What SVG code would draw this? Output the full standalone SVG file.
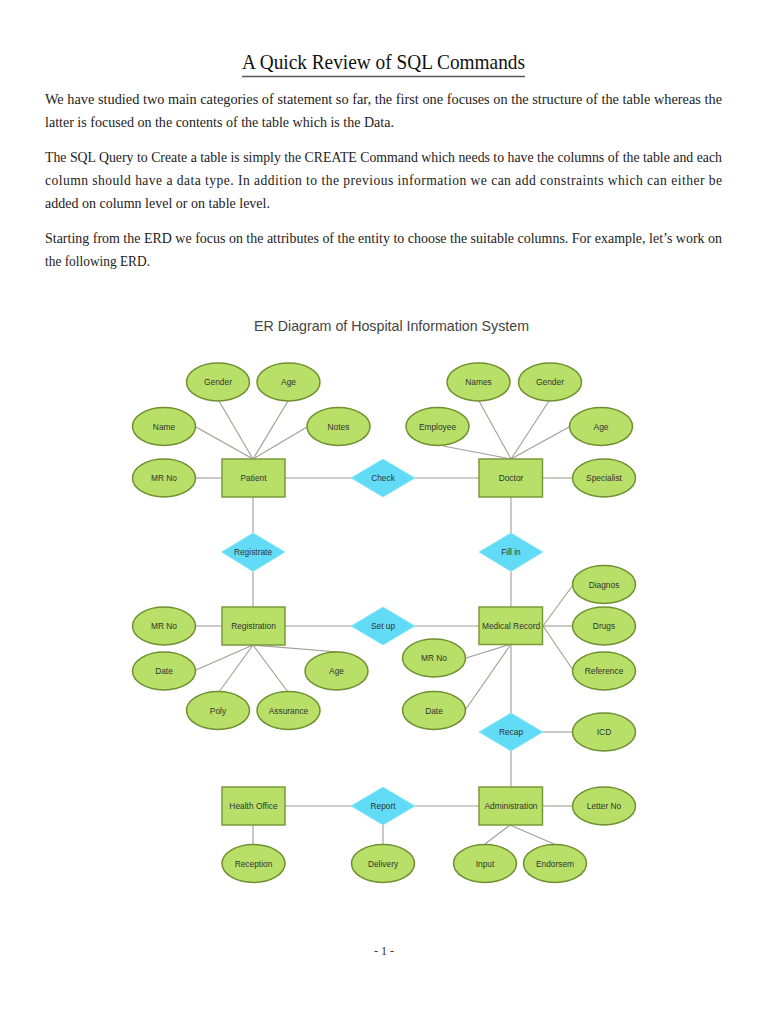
<svg xmlns="http://www.w3.org/2000/svg" width="768" height="1024" viewBox="0 0 768 1024">
<style>
.title{font-family:"Liberation Serif",serif;font-size:22px;fill:#111}
.para{font-family:"Liberation Serif",serif;font-size:13.6px;fill:#222}
.ert{font-family:"Liberation Sans",Arial,sans-serif;font-size:14.2px;fill:#444}
.ent{fill:#b8e068;stroke:#7a9a3a;stroke-width:1.5}
.att{fill:#b8e068;stroke:#6f8f30;stroke-width:1.5}
.rel{fill:#62dcf6;stroke:#8fe6f8;stroke-width:0.8}
.lbl{font-family:"Liberation Sans",Arial,sans-serif;font-size:8.4px;fill:#333;text-anchor:middle}
#connectors line{stroke:#a09d92;stroke-width:1.1}
.pg{font-family:"Liberation Serif",serif;font-size:12px;fill:#333;text-anchor:middle}
</style>
<rect width="768" height="1024" fill="#ffffff"/>
<g id="heading">
<text class="title" x="242" y="69" textLength="283" lengthAdjust="spacingAndGlyphs">A Quick Review of SQL Commands</text>
<line x1="242" y1="76.5" x2="525" y2="76.5" stroke="#555" stroke-width="1.5"/>
</g>
<g id="body-text">
<text class="para" x="45" y="104" textLength="677" lengthAdjust="spacingAndGlyphs">We have studied two main categories of statement so far, the first one focuses on the structure of the table whereas the</text>
<text class="para" x="45" y="127" textLength="349" lengthAdjust="spacingAndGlyphs">latter is focused on the contents of the table which is the Data.</text>
<text class="para" x="45" y="162" textLength="677" lengthAdjust="spacingAndGlyphs">The SQL Query to Create a table is simply the CREATE Command which needs to have the columns of the table and each</text>
<text class="para" x="45" y="185" textLength="677" lengthAdjust="spacing">column should have a data type. In addition to the previous information we can add constraints which can either be</text>
<text class="para" x="45" y="208" textLength="225" lengthAdjust="spacingAndGlyphs">added on column level or on table level.</text>
<text class="para" x="45" y="243" textLength="677" lengthAdjust="spacingAndGlyphs">Starting from the ERD we focus on the attributes of the entity to choose the suitable columns. For example, let’s work on</text>
<text class="para" x="45" y="266" textLength="105" lengthAdjust="spacingAndGlyphs">the following ERD.</text>
</g>
<text class="ert" x="254" y="331" textLength="275" lengthAdjust="spacingAndGlyphs">ER Diagram of Hospital Information System</text>
<g id="connectors">
<line x1="253" y1="459" x2="219" y2="401"/>
<line x1="253" y1="459" x2="288" y2="401"/>
<line x1="253" y1="459" x2="196" y2="427"/>
<line x1="253" y1="459" x2="307" y2="427"/>
<line x1="196" y1="478" x2="222" y2="478"/>
<line x1="285" y1="478" x2="352" y2="478"/>
<line x1="415" y1="478" x2="479" y2="478"/>
<line x1="253" y1="497" x2="253" y2="533"/>
<line x1="253" y1="572" x2="253" y2="607"/>
<line x1="511" y1="459" x2="479" y2="401"/>
<line x1="511" y1="459" x2="549" y2="401"/>
<line x1="511" y1="459" x2="443" y2="446"/>
<line x1="511" y1="459" x2="569" y2="427"/>
<line x1="543" y1="478" x2="572" y2="478"/>
<line x1="511" y1="497" x2="511" y2="533"/>
<line x1="511" y1="572" x2="511" y2="607"/>
<line x1="196" y1="626" x2="222" y2="626"/>
<line x1="285" y1="626" x2="352" y2="626"/>
<line x1="415" y1="626" x2="479" y2="626"/>
<line x1="253" y1="645" x2="196" y2="670"/>
<line x1="253" y1="645" x2="219" y2="692"/>
<line x1="253" y1="645" x2="288" y2="692"/>
<line x1="253" y1="645" x2="338" y2="652"/>
<line x1="543" y1="626" x2="573" y2="585"/>
<line x1="543" y1="626" x2="573" y2="626"/>
<line x1="543" y1="626" x2="573" y2="670"/>
<line x1="511" y1="644" x2="466" y2="658"/>
<line x1="511" y1="644" x2="466" y2="709"/>
<line x1="511" y1="644" x2="511" y2="713"/>
<line x1="543" y1="732" x2="573" y2="732"/>
<line x1="511" y1="751" x2="511" y2="787"/>
<line x1="285" y1="806" x2="352" y2="806"/>
<line x1="415" y1="806" x2="479" y2="806"/>
<line x1="543" y1="806" x2="572" y2="806"/>
<line x1="253" y1="825" x2="253" y2="845"/>
<line x1="383" y1="825" x2="383" y2="845"/>
<line x1="510" y1="825" x2="485" y2="844"/>
<line x1="510" y1="825" x2="554" y2="844"/>
</g>
<g id="patient"><rect class="ent" x="222" y="459" width="63" height="38"/><text class="lbl" x="253.5" y="481">Patient</text></g>
<g id="patient-gender"><ellipse class="att" cx="218" cy="382" rx="31.5" ry="19"/><text class="lbl" x="218" y="385">Gender</text></g>
<g id="patient-age"><ellipse class="att" cx="288.5" cy="382" rx="31.5" ry="19"/><text class="lbl" x="288.5" y="385">Age</text></g>
<g id="patient-name"><ellipse class="att" cx="164" cy="426.5" rx="31.5" ry="19"/><text class="lbl" x="164" y="429.5">Name</text></g>
<g id="patient-notes"><ellipse class="att" cx="338.5" cy="426.5" rx="31.5" ry="19"/><text class="lbl" x="338.5" y="429.5">Notes</text></g>
<g id="patient-mrno"><ellipse class="att" cx="164" cy="478" rx="31.5" ry="19"/><text class="lbl" x="164" y="481">MR No</text></g>
<g id="check"><polygon class="rel" points="383,459 415,478 383,497 351,478"/><text class="lbl" x="383" y="481">Check</text></g>
<g id="doctor"><rect class="ent" x="479" y="459" width="63.5" height="38"/><text class="lbl" x="511" y="481">Doctor</text></g>
<g id="doctor-names"><ellipse class="att" cx="478.5" cy="382" rx="31.5" ry="19"/><text class="lbl" x="478.5" y="385">Names</text></g>
<g id="doctor-gender"><ellipse class="att" cx="550" cy="382" rx="31.5" ry="19"/><text class="lbl" x="550" y="385">Gender</text></g>
<g id="doctor-employee"><ellipse class="att" cx="437.5" cy="426.5" rx="31.5" ry="19"/><text class="lbl" x="437.5" y="429.5">Employee</text></g>
<g id="doctor-age"><ellipse class="att" cx="601" cy="426.5" rx="31.5" ry="19"/><text class="lbl" x="601" y="429.5">Age</text></g>
<g id="doctor-specialist"><ellipse class="att" cx="604" cy="478" rx="31.5" ry="19"/><text class="lbl" x="604" y="481">Specialist</text></g>
<g id="registrate"><polygon class="rel" points="253,533 285,552 253,571.5 221.5,552"/><text class="lbl" x="253" y="555">Registrate</text></g>
<g id="fill-in"><polygon class="rel" points="511,533 543,552 511,571.5 479,552"/><text class="lbl" x="511" y="555">Fill in</text></g>
<g id="registration"><rect class="ent" x="222" y="607" width="63" height="38"/><text class="lbl" x="253.5" y="629">Registration</text></g>
<g id="registration-mrno"><ellipse class="att" cx="164" cy="626" rx="31.5" ry="19"/><text class="lbl" x="164" y="629">MR No</text></g>
<g id="registration-date"><ellipse class="att" cx="164" cy="671" rx="31.5" ry="19"/><text class="lbl" x="164" y="674">Date</text></g>
<g id="registration-age"><ellipse class="att" cx="336.5" cy="671" rx="31.5" ry="19"/><text class="lbl" x="336.5" y="674">Age</text></g>
<g id="registration-poly"><ellipse class="att" cx="218" cy="710.5" rx="31.5" ry="19"/><text class="lbl" x="218" y="713.5">Poly</text></g>
<g id="registration-assurance"><ellipse class="att" cx="288.5" cy="710.5" rx="31.5" ry="19"/><text class="lbl" x="288.5" y="713.5">Assurance</text></g>
<g id="set-up"><polygon class="rel" points="383,607 415,626 383,645 351,626"/><text class="lbl" x="383" y="629">Set up</text></g>
<g id="medical-record"><rect class="ent" x="479" y="607" width="63.5" height="37.5"/><text class="lbl" x="511" y="629">Medical Record</text></g>
<g id="mr-diagnos"><ellipse class="att" cx="604" cy="584.5" rx="31.5" ry="19"/><text class="lbl" x="604" y="587.5">Diagnos</text></g>
<g id="mr-drugs"><ellipse class="att" cx="604" cy="626" rx="31.5" ry="19"/><text class="lbl" x="604" y="629">Drugs</text></g>
<g id="mr-reference"><ellipse class="att" cx="604" cy="671" rx="31.5" ry="19"/><text class="lbl" x="604" y="674">Reference</text></g>
<g id="mr-mrno"><ellipse class="att" cx="434" cy="658" rx="31.5" ry="19"/><text class="lbl" x="434" y="661">MR No</text></g>
<g id="mr-date"><ellipse class="att" cx="434" cy="710.5" rx="31.5" ry="19"/><text class="lbl" x="434" y="713.5">Date</text></g>
<g id="recap"><polygon class="rel" points="511,713 543,732 511,751 479,732"/><text class="lbl" x="511" y="735">Recap</text></g>
<g id="recap-icd"><ellipse class="att" cx="604" cy="732" rx="31.5" ry="19"/><text class="lbl" x="604" y="735">ICD</text></g>
<g id="health-office"><rect class="ent" x="222" y="787" width="63" height="38"/><text class="lbl" x="253.5" y="809">Health Office</text></g>
<g id="report"><polygon class="rel" points="383,787 415,806 383,825 351,806"/><text class="lbl" x="383" y="809">Report</text></g>
<g id="administration"><rect class="ent" x="479" y="787" width="63.5" height="38"/><text class="lbl" x="511" y="809">Administration</text></g>
<g id="admin-letter-no"><ellipse class="att" cx="604" cy="806" rx="31.5" ry="19"/><text class="lbl" x="604" y="809">Letter No</text></g>
<g id="ho-reception"><ellipse class="att" cx="253.5" cy="863.5" rx="31.5" ry="19"/><text class="lbl" x="253.5" y="866.5">Reception</text></g>
<g id="report-delivery"><ellipse class="att" cx="383" cy="863.5" rx="31.5" ry="19"/><text class="lbl" x="383" y="866.5">Delivery</text></g>
<g id="admin-input"><ellipse class="att" cx="485" cy="863.5" rx="31.5" ry="19"/><text class="lbl" x="485" y="866.5">Input</text></g>
<g id="admin-endorsem"><ellipse class="att" cx="555" cy="863.5" rx="31.5" ry="19"/><text class="lbl" x="555" y="866.5">Endorsem</text></g>
<text class="pg" x="384" y="955">- 1 -</text>
</svg>
